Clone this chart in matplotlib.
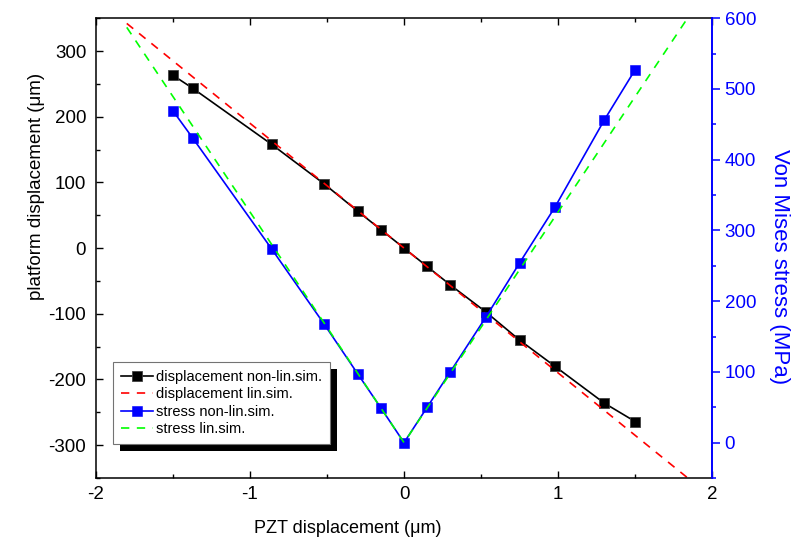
import matplotlib
matplotlib.use("Agg")
import matplotlib.pyplot as plt
import matplotlib.patheffects as pe
from matplotlib.ticker import MultipleLocator

plt.rcParams['font.family'] = ['Liberation Sans', 'DejaVu Sans']
plt.rcParams['axes.unicode_minus'] = False

# non-linear simulation points
x_nl = [-1.5, -1.37, -0.86, -0.52, -0.30, -0.15, 0.0, 0.15, 0.30, 0.53, 0.75, 0.98, 1.30, 1.50]
disp_nl = [263, 243, 158, 98, 56, 28, 0, -28, -56, -97, -140, -180, -236, -264]
stress_nl = [469, 430, 274, 168, 97, 49, 0, 50, 100, 177, 254, 333, 456, 527]

# linear simulation
x_lin = [-1.8, 0.0, 2.0]
disp_lin = [342, 0, -380]
stress_lin = [587, 0, 652]

labels = ["displacement non-lin.sim.", "displacement lin.sim.",
          "stress non-lin.sim.", "stress lin.sim."]

fig = plt.figure(figsize=(7.93, 5.49), dpi=100)
ax = fig.add_axes([0.121, 0.1293, 0.777, 0.8376])
ax2 = ax.twinx()

l1, = ax.plot(x_nl, disp_nl, '-s', color='black', lw=1.2, ms=7, mec='0.25', mew=0.6)
l2, = ax.plot(x_lin, disp_lin, color='red', lw=1.2, ls=(0, (5, 4.5)))
l3, = ax2.plot(x_nl, stress_nl, '-s', color='blue', lw=1.2, ms=7, mec='blue', mew=0.4)
l4, = ax2.plot(x_lin, stress_lin, color='#00ff00', lw=1.2, ls=(0, (5, 4.5)))

ax.set_xlim(-2, 2)
ax.set_ylim(-350, 350)
ax2.set_ylim(-50, 600)

ax.xaxis.set_major_locator(MultipleLocator(1))
ax.xaxis.set_minor_locator(MultipleLocator(0.5))
ax.yaxis.set_major_locator(MultipleLocator(100))
ax.yaxis.set_minor_locator(MultipleLocator(50))
ax2.yaxis.set_major_locator(MultipleLocator(100))
ax2.yaxis.set_minor_locator(MultipleLocator(50))

ax.tick_params(axis='x', which='both', direction='in', top=True, labelsize=13.5, pad=6)
ax.tick_params(axis='y', which='both', direction='in', right=False, labelsize=13.5, pad=7)
ax.tick_params(which='major', length=5, width=1)
ax.tick_params(which='minor', length=3, width=1)
ax2.tick_params(axis='y', which='both', direction='out', colors='blue', labelsize=13.5, pad=3)
ax2.tick_params(which='major', length=6, width=1.1)
ax2.tick_params(which='minor', length=3, width=1.1)

for s in ax.spines.values():
    s.set_linewidth(1.1)
ax.spines['right'].set_visible(False)
for name in ['left', 'top', 'bottom']:
    ax2.spines[name].set_visible(False)
ax2.spines['right'].set_color('blue')
ax2.spines['right'].set_linewidth(1.4)

ax.set_xlabel("PZT displacement (μm)", fontsize=13)
ax.xaxis.set_label_coords(0.409, -0.109)
ax.xaxis.label.set_va('center')
ax.set_ylabel("platform displacement (μm)", fontsize=13.5)
ax.yaxis.set_label_coords(-0.096, 0.633)
ax.yaxis.label.set_va('center')
ax2.set_ylabel("Von Mises stress (MPa)", fontsize=16, color='blue', rotation=270)
ax2.yaxis.set_label_coords(1.109, 0.459)
ax2.yaxis.label.set_va('center')

leg = ax2.legend([l1, l2, l3, l4], labels, loc='lower left',
                 bbox_to_anchor=(0.0276, 0.074), borderaxespad=0,
                 fontsize=10.5, fancybox=False, framealpha=1,
                 edgecolor='0.45', handlelength=2.2, handletextpad=0.2,
                 labelspacing=0.23, borderpad=0.55)
leg.get_frame().set_linewidth(0.8)
leg.get_frame().set_path_effects([
    pe.SimplePatchShadow(offset=(5, -5), shadow_rgbFace='black', alpha=1.0),
    pe.Normal()])

fig.savefig("out.png", dpi=100)
